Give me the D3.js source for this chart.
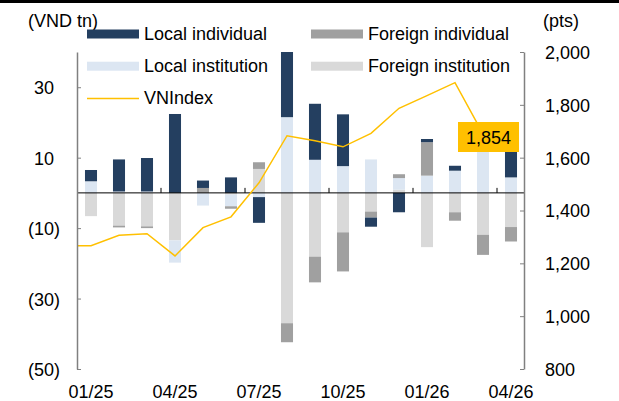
<!DOCTYPE html>
<html>
<head>
<meta charset="utf-8">
<script src="https://cdn.jsdelivr.net/npm/d3@7"></script>
<style>
  body { margin: 0; background: #fff; }
  svg { display: block; font-family: "Liberation Sans", Arial, sans-serif; }
</style>
</head>
<body>
<div id="chart"></div>
<script>
// Monthly net trading (VND tn) by investor type, plus VNIndex (pts)
const months = ["01/25", "02/25", "03/25", "04/25", "05/25", "06/25", "07/25", "08/25",
                "09/25", "10/25", "11/25", "12/25", "01/26", "02/26", "03/26", "04/26"];
const monthLabels = ["01/25", "04/25", "07/25", "10/25", "01/26", "04/26"];

const localIndividual   = [3.2, 9.1, 9.5, 22.4, 2.1, 4.4, -7.3, 18.5, 15.9, 14.7, -2.6, -5.5, 0.9, 1.4, 0, 8.0];
const localInstitution  = [3.3, 0.4, 0.4, -6.3, -3.6, -3.3, -1.2, 21.5, 9.4, 7.6, 9.5, 3.3, 4.9, 6.3, 16.0, 4.4];
const foreignIndividual = [0, -0.5, -0.5, 0, 1.4, -0.7, 1.9, -5.4, -7.3, -11.1, -1.7, 1.1, 9.5, -2.4, -5.7, -4.1];
const foreignInstitution = [-6.6, -9.3, -9.5, -13.5, 0, -0.5, 6.8, -37.0, -18.1, -11.2, -5.3, 0.9, -15.4, -5.5, -11.9, -9.7];
const vnIndex = [1267, 1306, 1312, 1228, 1335, 1376, 1505, 1683, 1664, 1641, 1692, 1787, 1835, 1884, 1690, null];
const vnIndexPrev = 1267; // 12/24, only its right half shows inside the plot

const leftTicks = [30, 10, -10, -30, -50];
const rightTicks = [800, 1000, 1200, 1400, 1600, 1800, 2000];
const lastLabel = "1,854";

// Set up dimensions
const width = 619, height = 401;
const plot = { left: 77, right: 524, top: 52, bottom: 369 };
const fontSize = 18;

const colors = {
    localIndiv: "#243F60",
    localInst: "#DCE6F2",
    foreignIndiv: "#A0A0A0",
    foreignInst: "#D9D9D9"
};

// stacking order (positives and negatives each stack in this order)
const keys = ["foreignInst", "localInst", "foreignIndiv", "localIndiv"];

const rows = months.map((m, i) => ({
    month: m,
    localIndiv: localIndividual[i],
    localInst: localInstitution[i],
    foreignIndiv: foreignIndividual[i],
    foreignInst: foreignInstitution[i]
}));

const series = d3.stack().keys(keys).offset(d3.stackOffsetDiverging)(rows);

const svg = d3.select("#chart").append("svg")
    .attr("width", width)
    .attr("height", height);

svg.append("clipPath").attr("id", "plot-clip")
    .append("rect")
    .attr("x", plot.left).attr("y", plot.top)
    .attr("width", plot.right - plot.left).attr("height", plot.bottom - plot.top);

// Scales
const x = d3.scaleBand()
    .domain(months)
    .range([plot.left, plot.right + 1])
    .paddingInner(0.57)
    .paddingOuter(0.285);

const y = d3.scaleLinear().domain([-50, 40]).range([plot.bottom, plot.top]);
const yR = d3.scaleLinear().domain([800, 2000]).range([plot.bottom, plot.top]);

// top rule
svg.append("rect")
    .attr("x", 0).attr("y", 0)
    .attr("width", width).attr("height", 3)
    .attr("fill", "#000");

// Bars
svg.append("g")
    .selectAll("g")
    .data(series)
    .enter().append("g")
    .attr("fill", d => colors[d.key])
    .selectAll("rect")
    .data(d => d)
    .enter().append("rect")
    .attr("x", d => x(d.data.month))
    .attr("width", x.bandwidth())
    .attr("y", d => y(Math.max(d[0], d[1])))
    .attr("height", d => Math.abs(y(d[0]) - y(d[1])));

// Zero line with quarter ticks
svg.append("line")
    .attr("x1", plot.left).attr("x2", plot.right)
    .attr("y1", y(0)).attr("y2", y(0))
    .attr("stroke", "#000").attr("stroke-width", 1);

const quarterIdx = [3, 6, 9, 12, 15];
svg.append("g")
    .selectAll("line")
    .data(quarterIdx)
    .enter().append("line")
    .attr("x1", i => plot.left + x.step() * i)
    .attr("x2", i => plot.left + x.step() * i)
    .attr("y1", y(0)).attr("y2", y(0) - 5)
    .attr("stroke", "#000").attr("stroke-width", 1);

// VNIndex line (previous month point sits one step left, clipped at the axis)
const linePts = [{ x: x(months[0]) - x.step(), v: vnIndexPrev }]
    .concat(vnIndex.map((v, i) => ({ x: x(months[i]), v: v })));

const line = d3.line()
    .defined(d => d.v != null)
    .x(d => d.x + x.bandwidth() / 2)
    .y(d => yR(d.v));

svg.append("path")
    .datum(linePts)
    .attr("clip-path", "url(#plot-clip)")
    .attr("fill", "none")
    .attr("stroke", "#FFC000")
    .attr("stroke-width", 1.5)
    .attr("d", line);

// Left axis
const yAxis = d3.axisLeft(y)
    .tickValues(leftTicks)
    .tickSize(-4)
    .tickSizeOuter(0)
    .tickPadding(17)
    .tickFormat(d => d < 0 ? `(${-d})` : d);

const gL = svg.append("g")
    .attr("transform", `translate(${plot.left},0)`)
    .call(yAxis);

// Right axis
const yRAxis = d3.axisRight(yR)
    .tickValues(rightTicks)
    .tickSize(-4)
    .tickSizeOuter(0)
    .tickPadding(21)
    .tickFormat(d3.format(","));

const gR = svg.append("g")
    .attr("transform", `translate(${plot.right},0)`)
    .call(yRAxis);

[gL, gR].forEach(g => {
    g.attr("font-size", null).attr("font-family", null);
    g.select(".domain").attr("stroke", "#808080").attr("stroke-width", 1.5);
    g.selectAll(".tick line").attr("stroke", "#808080").attr("stroke-width", 1);
    g.selectAll(".tick text")
        .attr("fill", "#000")
        .style("font-size", fontSize + "px")
        .attr("dy", "0.36em");
});
// positive labels leave room for a closing parenthesis
gL.selectAll(".tick text").filter(d => d >= 0).attr("dx", -6);

// Axis titles
svg.append("text")
    .attr("x", 28).attr("y", 27)
    .style("font-size", fontSize + "px")
    .text("(VND tn)");

svg.append("text")
    .attr("x", 543).attr("y", 27)
    .style("font-size", fontSize + "px")
    .text("(pts)");

// Month labels
svg.append("g")
    .selectAll("text")
    .data(monthLabels)
    .enter().append("text")
    .attr("x", d => x(d) + x.bandwidth() / 2)
    .attr("y", 398)
    .attr("text-anchor", "middle")
    .style("font-size", fontSize + "px")
    .text(d => d);

// Legend
const legendItems = [
    { key: "localIndiv", label: "Local individual", col: 0, row: 0 },
    { key: "foreignIndiv", label: "Foreign individual", col: 1, row: 0 },
    { key: "localInst", label: "Local institution", col: 0, row: 1 },
    { key: "foreignInst", label: "Foreign institution", col: 1, row: 1 },
    { key: "line", label: "VNIndex", col: 0, row: 2 }
];
const colX = [87, 311];

const legend = svg.append("g")
    .selectAll("g")
    .data(legendItems)
    .enter().append("g")
    .attr("transform", d => `translate(${colX[d.col]},${34 + 32.2 * d.row})`);

legend.filter(d => d.key !== "line").append("rect")
    .attr("x", 0).attr("y", -4.5)
    .attr("width", 52).attr("height", 9)
    .attr("fill", d => colors[d.key]);

legend.filter(d => d.key === "line").append("line")
    .attr("x1", 0).attr("x2", 52)
    .attr("y1", 0).attr("y2", 0)
    .attr("stroke", "#FFC000").attr("stroke-width", 1.5);

legend.append("text")
    .attr("x", 57).attr("y", 6)
    .style("font-size", fontSize + "px")
    .text(d => d.label);

// Latest value callout
svg.append("rect")
    .attr("x", 458).attr("y", 122)
    .attr("width", 61).attr("height", 30)
    .attr("fill", "#FFC000");

svg.append("text")
    .attr("x", 488.5).attr("y", 143.5)
    .attr("text-anchor", "middle")
    .style("font-size", fontSize + "px")
    .text(lastLabel);
</script>
</body>
</html>
